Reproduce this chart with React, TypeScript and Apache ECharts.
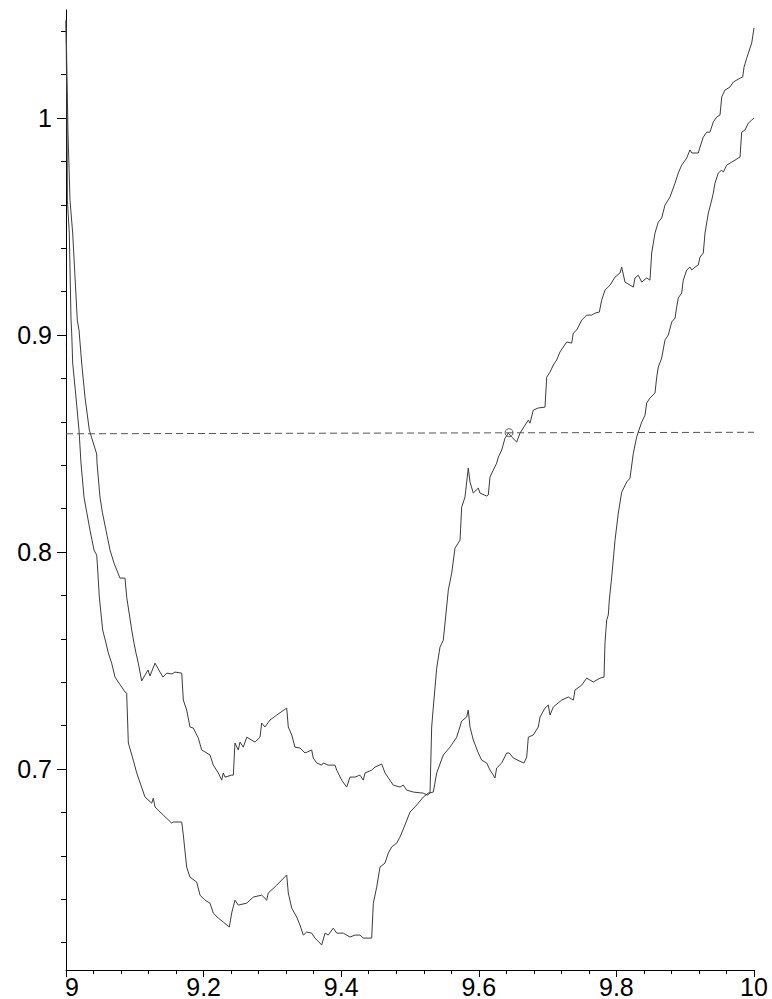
import React, { useEffect, useRef } from "react";
import * as echarts from "echarts";

// Plot window
const X_MIN = 9;
const X_MAX = 10;
const Y_MIN = 0.6074;
const Y_MAX = 1.0498;

// Tick positions
const yMajorTicks = [0.7, 0.8, 0.9, 1];
const yMinorTicks = [
  0.62, 0.64, 0.66, 0.68, 0.72, 0.74, 0.76, 0.78, 0.82, 0.84, 0.86, 0.88,
  0.92, 0.94, 0.96, 0.98, 1.02, 1.04,
];
const xTickStep = 0.2;

// Upper-left curve (plateau near 0.745, jumps up near 9.53, ends at top right)
const curveA: [number, number][] = [
  [9.0, 1.045], [9.0029, 0.9931], [9.0058, 0.9622], [9.0097, 0.947], [9.0164, 0.9069],
  [9.0189, 0.9023], [9.0228, 0.8871], [9.0276, 0.8714], [9.0339, 0.8562], [9.0446, 0.8452],
  [9.0451, 0.841], [9.0494, 0.8253], [9.0528, 0.8184], [9.0581, 0.8101], [9.064, 0.8009],
  [9.0698, 0.7949], [9.0785, 0.788], [9.0858, 0.788], [9.0882, 0.7793], [9.0955, 0.7641],
  [9.0988, 0.7581], [9.1017, 0.7535], [9.1051, 0.7488], [9.11, 0.7406], [9.1148, 0.7433],
  [9.1192, 0.7456], [9.1221, 0.7429], [9.1294, 0.7488], [9.1366, 0.7447], [9.141, 0.7424],
  [9.1464, 0.7442], [9.1541, 0.7438], [9.1584, 0.7447], [9.1682, 0.7442], [9.1705, 0.7318],
  [9.1754, 0.7272], [9.1802, 0.7194], [9.185, 0.7189], [9.1923, 0.7143], [9.1972, 0.7088],
  [9.2093, 0.7065], [9.2141, 0.7018], [9.2214, 0.6982], [9.2263, 0.6949], [9.2286, 0.6982],
  [9.2311, 0.6963], [9.2408, 0.6972], [9.2432, 0.6972], [9.2456, 0.712], [9.2504, 0.7088],
  [9.2529, 0.7124], [9.2577, 0.7101], [9.2627, 0.7147], [9.2747, 0.7124], [9.282, 0.7147],
  [9.2844, 0.7212], [9.2892, 0.7194], [9.2965, 0.7226], [9.3063, 0.7249], [9.3208, 0.7281],
  [9.3231, 0.7194], [9.3281, 0.7157], [9.3328, 0.7101], [9.3401, 0.7097], [9.3474, 0.7074],
  [9.3571, 0.7088], [9.3594, 0.7051], [9.3644, 0.7028], [9.3716, 0.7018], [9.374, 0.7028],
  [9.3812, 0.7018], [9.391, 0.7018], [9.3935, 0.6995], [9.4007, 0.6949], [9.408, 0.6917],
  [9.4128, 0.6963], [9.4201, 0.6963], [9.4273, 0.6972], [9.4321, 0.6949], [9.4346, 0.6982],
  [9.4443, 0.6995], [9.4491, 0.7009], [9.4589, 0.7023], [9.4637, 0.6982], [9.4757, 0.6926],
  [9.4855, 0.6917], [9.4903, 0.6926], [9.4952, 0.6903], [9.5048, 0.6894], [9.5193, 0.6889],
  [9.5252, 0.688], [9.5291, 0.6889], [9.5315, 0.7194], [9.5339, 0.7286], [9.5388, 0.7465],
  [9.5436, 0.7562], [9.5484, 0.7594], [9.5557, 0.7825], [9.5606, 0.7903], [9.5654, 0.8018],
  [9.5727, 0.8055], [9.5751, 0.8207], [9.5799, 0.8253], [9.5847, 0.8387], [9.5872, 0.8323],
  [9.592, 0.8272], [9.5993, 0.8295], [9.6017, 0.8272], [9.6115, 0.8258], [9.6138, 0.8263],
  [9.6163, 0.8346], [9.6211, 0.8378], [9.626, 0.841], [9.6284, 0.8438], [9.6333, 0.847],
  [9.6381, 0.8525], [9.6429, 0.8548], [9.6478, 0.853], [9.6551, 0.8507], [9.6599, 0.8548],
  [9.6672, 0.8585], [9.672, 0.8608], [9.6744, 0.8594], [9.6792, 0.8654], [9.6865, 0.8664],
  [9.6962, 0.8668], [9.6987, 0.8806], [9.7035, 0.8829], [9.7083, 0.8862], [9.7132, 0.8885],
  [9.718, 0.8922], [9.7228, 0.8945], [9.7278, 0.8968], [9.735, 0.8963], [9.7374, 0.9009],
  [9.7423, 0.9023], [9.7496, 0.9069], [9.7568, 0.9092], [9.7641, 0.9092], [9.7689, 0.9101],
  [9.7752, 0.9106], [9.7786, 0.9161], [9.7834, 0.9207], [9.7907, 0.923], [9.798, 0.9267],
  [9.8052, 0.9286], [9.8077, 0.9313], [9.8125, 0.9244], [9.8198, 0.923], [9.8246, 0.9221],
  [9.827, 0.9263], [9.8318, 0.9276], [9.8368, 0.9244], [9.844, 0.9263], [9.8488, 0.9253],
  [9.8513, 0.9378], [9.8561, 0.947], [9.8609, 0.9521], [9.8658, 0.9539], [9.8706, 0.9599],
  [9.8779, 0.9636], [9.8852, 0.97], [9.89, 0.9747], [9.8949, 0.9783], [9.9022, 0.9816],
  [9.907, 0.9853], [9.9095, 0.9839], [9.919, 0.9839], [9.9215, 0.9866], [9.9263, 0.9912],
  [9.9312, 0.9935], [9.936, 0.9935], [9.9408, 0.9982], [9.9458, 1.0005], [9.9506, 1.0014],
  [9.9531, 1.0097], [9.9578, 1.0129], [9.9651, 1.0143], [9.9699, 1.0166], [9.9797, 1.0184],
  [9.9836, 1.0189], [9.9855, 1.0235], [9.9894, 1.0276], [9.9967, 1.0346], [10.0, 1.0415],
];

// Lower-left curve (plateau near 0.675, bottom near 0.62, ends at 1)
const curveB: [number, number][] = [
  [9.0, 1.045], [9.0015, 0.9931], [9.002, 0.9622], [9.0048, 0.947], [9.0073, 0.9069],
  [9.0083, 0.9009], [9.0097, 0.8871], [9.0145, 0.8714], [9.0189, 0.8562], [9.0218, 0.841],
  [9.0262, 0.8253], [9.0301, 0.8184], [9.0349, 0.8101], [9.0407, 0.8009], [9.0446, 0.7986],
  [9.0455, 0.7949], [9.0484, 0.7793], [9.0533, 0.7641], [9.0581, 0.7581], [9.0615, 0.7535],
  [9.0664, 0.7488], [9.0712, 0.7424], [9.0858, 0.7355], [9.0882, 0.735], [9.0906, 0.712],
  [9.0978, 0.7041], [9.1028, 0.6982], [9.1148, 0.6871], [9.1246, 0.6843], [9.1269, 0.6866],
  [9.1294, 0.6825], [9.1414, 0.6788], [9.1536, 0.6751], [9.156, 0.6756], [9.1682, 0.6756],
  [9.1705, 0.6696], [9.1754, 0.6548], [9.1802, 0.6502], [9.19, 0.6479], [9.1948, 0.6419],
  [9.202, 0.6396], [9.2093, 0.6382], [9.2141, 0.6336], [9.2214, 0.6313], [9.2286, 0.6295],
  [9.2374, 0.6272], [9.2408, 0.6336], [9.2456, 0.6396], [9.2504, 0.6373], [9.2627, 0.6382],
  [9.2722, 0.641], [9.2844, 0.6419], [9.2917, 0.6396], [9.294, 0.6429], [9.3063, 0.6465],
  [9.3208, 0.6512], [9.3231, 0.6429], [9.3281, 0.6359], [9.3353, 0.6318], [9.3401, 0.6281],
  [9.3449, 0.6235], [9.3499, 0.6249], [9.3571, 0.6244], [9.3619, 0.6221], [9.3692, 0.6198],
  [9.3716, 0.6189], [9.3765, 0.6244], [9.3812, 0.6235], [9.3885, 0.6267], [9.3935, 0.6244],
  [9.4031, 0.6244], [9.4128, 0.6226], [9.4201, 0.6235], [9.4273, 0.6235], [9.4321, 0.6221],
  [9.4443, 0.6221], [9.4467, 0.6382], [9.4516, 0.6456], [9.4564, 0.6548], [9.4637, 0.6567],
  [9.4685, 0.6613], [9.4734, 0.6641], [9.4807, 0.6659], [9.4855, 0.6687], [9.4927, 0.6742],
  [9.5, 0.6802], [9.5097, 0.6834], [9.5193, 0.6871], [9.5266, 0.6889], [9.5339, 0.6894],
  [9.5388, 0.6982], [9.5484, 0.7065], [9.5581, 0.7101], [9.5679, 0.7147], [9.5751, 0.7221],
  [9.5824, 0.724], [9.5847, 0.7272], [9.5872, 0.7194], [9.592, 0.7134], [9.5993, 0.7074],
  [9.6042, 0.7041], [9.6115, 0.7028], [9.6163, 0.6995], [9.6211, 0.6972], [9.6235, 0.6959],
  [9.626, 0.7005], [9.6333, 0.7028], [9.6405, 0.7074], [9.6443, 0.7074], [9.6501, 0.7051],
  [9.6624, 0.7032], [9.6657, 0.7028], [9.6696, 0.7055], [9.672, 0.7147], [9.6792, 0.7157],
  [9.6865, 0.7194], [9.689, 0.724], [9.6962, 0.7281], [9.701, 0.7295], [9.7035, 0.7249],
  [9.7083, 0.7286], [9.7205, 0.7318], [9.7301, 0.7332], [9.7374, 0.7318], [9.7398, 0.7364],
  [9.7496, 0.7387], [9.7568, 0.7419], [9.7664, 0.7401], [9.7762, 0.7419], [9.782, 0.7424],
  [9.7834, 0.7581], [9.7859, 0.7687], [9.7882, 0.771], [9.7897, 0.7779], [9.7932, 0.7885],
  [9.798, 0.8055], [9.8028, 0.818], [9.8077, 0.8276], [9.815, 0.8323], [9.8198, 0.8341],
  [9.8246, 0.8456], [9.8295, 0.853], [9.8318, 0.8553], [9.8368, 0.8599], [9.8416, 0.8631],
  [9.844, 0.8687], [9.8488, 0.871], [9.8561, 0.8733], [9.8586, 0.8806], [9.8609, 0.8853],
  [9.8658, 0.8894], [9.8706, 0.8977], [9.8754, 0.9], [9.8804, 0.906], [9.8852, 0.9078],
  [9.8876, 0.9129], [9.89, 0.9171], [9.8949, 0.9194], [9.8972, 0.9253], [9.9022, 0.93],
  [9.907, 0.9313], [9.9095, 0.93], [9.9142, 0.9313], [9.919, 0.9323], [9.9215, 0.9359],
  [9.9263, 0.9378], [9.9288, 0.947], [9.9336, 0.9562], [9.9385, 0.9622], [9.9408, 0.9654],
  [9.9433, 0.97], [9.9481, 0.9747], [9.9531, 0.976], [9.9554, 0.9751], [9.9603, 0.9783],
  [9.9676, 0.9797], [9.9724, 0.9806], [9.9772, 0.9816], [9.9797, 0.982], [9.9821, 0.9935],
  [9.9869, 0.9945], [9.9918, 0.9977], [9.9967, 0.9991], [10.0, 1.0],
];

// Horizontal reference level and the marked crossing on the upper curve
const levelLine: [number, number][] = [
  [9.0, 0.8545],
  [10.0, 0.8552],
];
const crossingPoint: [number, number][] = [[9.644, 0.855]];

const FONT = "'Liberation Sans', Arial, sans-serif";
const LINE_COLOR = "#3c3c3c";

export default function App() {
  const ref = useRef<HTMLDivElement>(null);

  useEffect(() => {
    if (!ref.current) return;
    const chart = echarts.init(ref.current, undefined, { renderer: "svg" });

    const yBase = {
      type: "value" as const,
      min: Y_MIN,
      max: Y_MAX,
      position: "left" as const,
      splitLine: { show: false },
    };

    chart.setOption({
      animation: false,
      backgroundColor: "#ffffff",
      grid: { left: 66, right: 18, top: 10, bottom: 29, containLabel: false },
      xAxis: {
        type: "value",
        min: X_MIN,
        max: X_MAX,
        interval: xTickStep,
        axisLine: { show: true, onZero: false, lineStyle: { color: "#000", width: 1 } },
        axisTick: { show: true, inside: false, length: 7, lineStyle: { color: "#000", width: 1 } },
        minorTick: { show: true, splitNumber: 5, length: 4, lineStyle: { color: "#000", width: 1 } },
        splitLine: { show: false },
        minorSplitLine: { show: false },
        axisLabel: {
          margin: 4,
          color: "#000",
          fontSize: 25,
          fontFamily: FONT,
          showMinLabel: true,
          showMaxLabel: true,
          formatter: (v: number) => {
            const s = String(Math.round(v * 10) / 10);
            return v <= X_MIN + 1e-9 ? "{first|" + s + "}" : s;
          },
          rich: {
            first: { padding: [0, 0, 0, 12], fontSize: 25, fontFamily: FONT, color: "#000" },
          },
        },
      },
      yAxis: [
        {
          ...yBase,
          axisLine: { show: true, onZero: false, lineStyle: { color: "#000", width: 1 } },
          axisTick: {
            show: true,
            length: 9,
            customValues: yMajorTicks,
            lineStyle: { color: "#000", width: 1 },
          },
          axisLabel: {
            show: true,
            margin: 14,
            color: "#000",
            fontSize: 25,
            fontFamily: FONT,
            customValues: yMajorTicks,
            formatter: (v: number) => String(Math.round(v * 10) / 10),
          },
        },
        {
          ...yBase,
          axisLine: { show: false },
          axisTick: {
            show: true,
            length: 5,
            customValues: yMinorTicks,
            lineStyle: { color: "#000", width: 1 },
          },
          axisLabel: { show: false },
        },
      ],
      series: [
        {
          type: "line",
          data: curveA,
          showSymbol: false,
          symbol: "none",
          lineStyle: { color: LINE_COLOR, width: 1 },
          silent: true,
        },
        {
          type: "line",
          data: curveB,
          showSymbol: false,
          symbol: "none",
          lineStyle: { color: LINE_COLOR, width: 1 },
          silent: true,
        },
        {
          type: "line",
          data: levelLine,
          showSymbol: false,
          symbol: "none",
          lineStyle: { color: "#555", width: 1, type: [7, 4] },
          silent: true,
        },
        {
          type: "scatter",
          data: crossingPoint,
          symbol: "circle",
          symbolSize: 8,
          itemStyle: { color: "rgba(0,0,0,0)", borderColor: "#333", borderWidth: 1 },
          silent: true,
        },
      ],
    });

    return () => {
      chart.dispose();
    };
  }, []);

  return (
    <div
      ref={ref}
      style={{ position: "fixed", left: 0, top: 0, width: 772, height: 999, background: "#fff" }}
    />
  );
}
